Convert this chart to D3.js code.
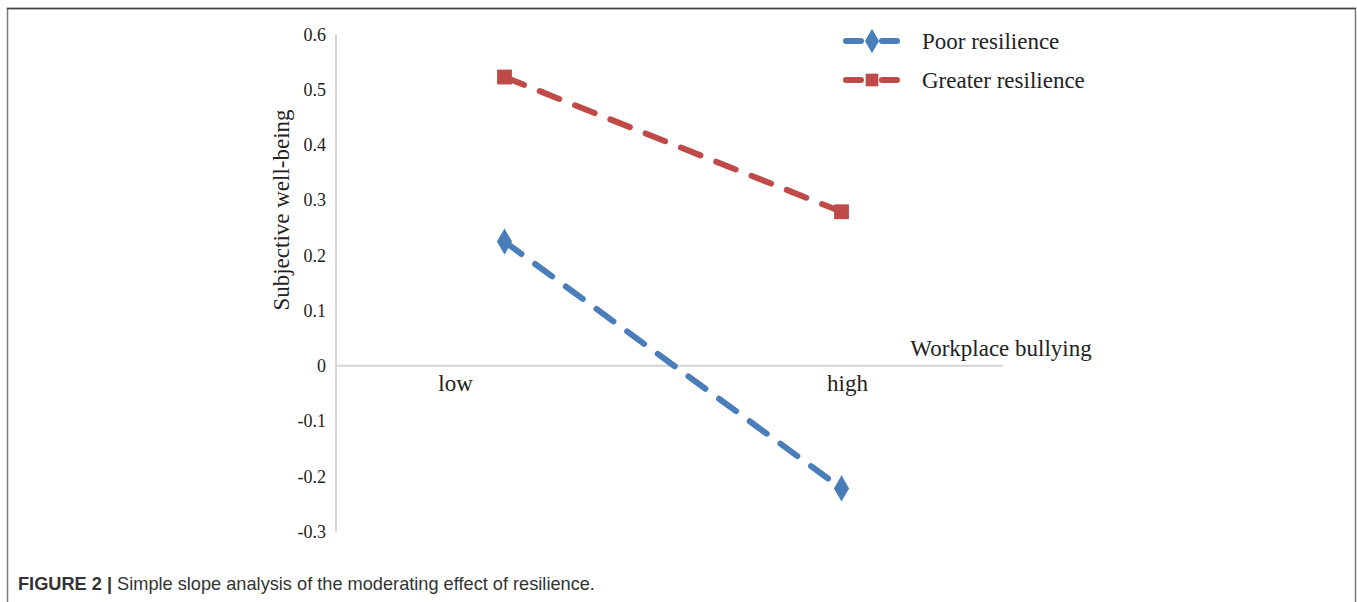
<!DOCTYPE html>
<html><head><meta charset="utf-8">
<script src="https://cdn.jsdelivr.net/npm/d3@7/dist/d3.min.js"></script>
<style>body{margin:0;background:#fff}svg{display:block}
.serif text, text.serif{font-family:"Liberation Serif",serif}</style>
</head><body>
<svg id="c" width="1357" height="602"></svg>
<script>
const categories = ["low", "high"];
const poorValues = [0.225, -0.222];
const greaterValues = [0.523, 0.279];
const yTicks = [0.6, 0.5, 0.4, 0.3, 0.2, 0.1, 0, -0.1, -0.2, -0.3];
const seriesNames = ["Poor resilience", "Greater resilience"];
const seriesColors = ["#4a7ebb", "#be4b48"];

const svg = d3.select("#c");
// frame
svg.append("path").attr("d","M7.5,602 L7.5,8.5 L1355.5,8.5 L1355.5,602")
  .attr("fill","none").attr("stroke","#7a7a7a").attr("stroke-width",1.5);
svg.append("line").attr("x1",7).attr("x2",1356).attr("y1",8.5).attr("y2",8.5).attr("stroke","#444").attr("stroke-width",1.5);

const x = d3.scaleBand().domain(categories).range([336, 1010]);
const y = d3.scaleLinear().domain([-0.3, 0.6]).range([531.5, 34.5]);

// y axis line
svg.append("line").attr("x1",336).attr("x2",336).attr("y1",y(0.6)).attr("y2",y(-0.3))
  .attr("stroke","#d4d4d4").attr("stroke-width",2);
// zero line
svg.append("line").attr("x1",336).attr("x2",1003).attr("y1",y(0)).attr("y2",y(0))
  .attr("stroke","#d4d4d4").attr("stroke-width",2);

const yAxis = d3.axisLeft(y).tickValues(yTicks).tickSize(0).tickPadding(10)
  .tickFormat(d => d === 0 ? "0" : String(+d.toFixed(1)));
const ga = svg.append("g").attr("class","serif").attr("transform","translate(336,0)").call(yAxis)
  .attr("font-family","Liberation Serif").attr("font-size",18);
ga.select(".domain").remove();
ga.selectAll("text").attr("fill","#222");

// category labels
const catOffset = {low: -49, high: 6};
svg.selectAll(".cat").data(categories).enter().append("text").attr("class","serif")
  .attr("x", d => x(d) + x.bandwidth()/2 + catOffset[d]).attr("y", y(0) + 25)
  .attr("text-anchor","middle").attr("font-size",23).attr("fill","#222")
  .text(d => d);

svg.append("text").attr("class","serif").attr("x",1001).attr("y",356).attr("text-anchor","middle")
  .attr("font-size",23).attr("fill","#222").text("Workplace bullying");
svg.append("text").attr("class","serif").attr("transform","translate(289,210) rotate(-90)").attr("text-anchor","middle")
  .attr("font-size",23).attr("fill","#222").text("Subjective well-being");

const series = [poorValues, greaterValues];
const line = d3.line().x((d,i) => x(categories[i]) + x.bandwidth()/2).y(d => y(d));
const symbols = [d3.symbolDiamond, d3.symbolSquare];
series.forEach((vals, s) => {
  svg.append("path").attr("d", line(vals)).attr("fill","none")
    .attr("stroke", seriesColors[s]).attr("stroke-width",6)
    .attr("stroke-dasharray","21,17").attr("stroke-linecap","round");
  svg.selectAll(".m"+s).data(vals).enter().append("path")
    .attr("transform",(d,i) => `translate(${x(categories[i]) + x.bandwidth()/2},${y(d)})`)
    .attr("d", d3.symbol().type(symbols[s]).size(s===0?200:220)).attr("fill", seriesColors[s]);
});

// legend
const legY = [41, 80];
seriesNames.forEach((name, s) => {
  const g = svg.append("g");
  g.append("line").attr("x1",846).attr("x2",897).attr("y1",legY[s]).attr("y2",legY[s])
    .attr("stroke",seriesColors[s]).attr("stroke-width",6).attr("stroke-dasharray","15,21").attr("stroke-linecap","round");
  g.append("path").attr("transform",`translate(872,${legY[s]})`)
    .attr("d", d3.symbol().type(symbols[s]).size(s===0?170:160)).attr("fill", seriesColors[s]);
  g.append("text").attr("class","serif").attr("x",922).attr("y",legY[s]+8).attr("font-size",23)
    .attr("fill","#222").text(name);
});

// caption
const cap = svg.append("text").attr("x",18).attr("y",590).attr("font-family","Liberation Sans").attr("font-size",18.2).attr("fill","#333");
cap.append("tspan").attr("font-weight","bold").text("FIGURE 2 | ");
cap.append("tspan").text("Simple slope analysis of the moderating effect of resilience.");
</script>
</body></html>
